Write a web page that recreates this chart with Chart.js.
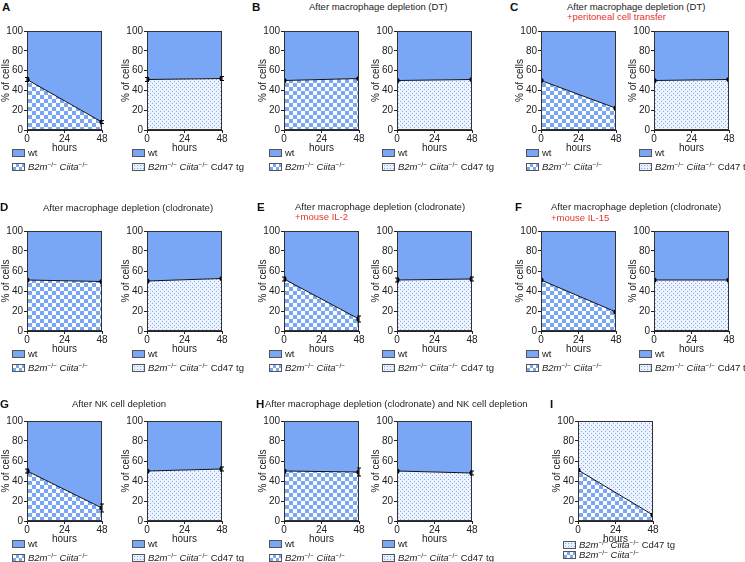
<!DOCTYPE html>
<html><head><meta charset="utf-8">
<script src="https://cdn.jsdelivr.net/npm/chart.js@4"></script>
<style>
body{margin:0;width:745px;height:562px;background:#fff;position:relative;overflow:hidden;font-family:"Liberation Sans",Arial,sans-serif;color:#222}
.t{position:absolute;font-size:9.5px;white-space:nowrap;line-height:10px}
.lt{position:absolute;font-size:11.5px;font-weight:bold;line-height:12px;color:#111}
.red{color:#e5342d}
.cw{position:absolute}
.lg{position:absolute;font-size:9.5px;white-space:nowrap;line-height:10px;height:10px;display:flex;align-items:center}
.sw{width:11px;height:6px;border:1px solid #555;margin-right:3px;flex:none}
.blue{background:#79a7f5}
.chk{background:repeating-conic-gradient(#79a7f5 0 25%,#fff 0 50%) 0 0/6px 6px}
.dot{background:#eaf1fe radial-gradient(#7aa8f5 0.8px,transparent 1px) 0 0/3px 3px}
sup{font-size:6.5px;vertical-align:0;position:relative;top:-3px}
</style></head>
<body>
<script>
// ---- data ----
const hours = [0, 48];
const hourTicks = [0, 24, 48];
const pctTicks = [0, 20, 40, 60, 80, 100];
const fullTop = [100, 100];
const A_ko = [51, 8],   A_koErr = [2, 1.5];
const A_tg = [51, 52],  A_tgErr = [2, 2];
const B_ko = [50, 52];
const B_tg = [50, 51];
const C_ko = [50, 22];
const C_tg = [50, 51];
const D_ko = [51, 49.5];
const D_tg = [50, 52.5];
const E_ko = [52, 12],  E_koErr = [2, 3];
const E_tg = [51, 52],  E_tgErr = [2, 2];
const F_ko = [51, 19];
const F_tg = [51, 51];
const G_ko = [50, 13],  G_koErr = [2, 4];
const G_tg = [50, 52],  G_tgErr = [0, 2];
const H_ko = [50, 49],  H_koErr = [0, 4];
const H_tg = [50, 48],  H_tgErr = [0, 2];
const I_ko = [51, 6];

const BLUE = '#79a7f5';
const INK = '#222';
const FONT = '"Liberation Sans", Arial, sans-serif';

function checker(){const c=document.createElement('canvas');c.width=c.height=8;const g=c.getContext('2d');g.fillStyle='#fff';g.fillRect(0,0,8,8);g.fillStyle=BLUE;g.fillRect(0,0,4,4);g.fillRect(4,4,4,4);return g.createPattern(c,'repeat');}
function dots(){const c=document.createElement('canvas');c.width=c.height=4;const g=c.getContext('2d');g.fillStyle='#edf3fe';g.fillRect(0,0,4,4);g.fillStyle='#86b0f6';g.fillRect(0,0,1,1);g.fillRect(2,2,1,1);return g.createPattern(c,'repeat');}

const frame = {id:'frame', afterDatasetsDraw(ch){const a=ch.chartArea,g=ch.ctx;g.save();g.strokeStyle='#333';g.lineWidth=1;g.strokeRect(Math.round(a.left)+0.5,Math.round(a.top)+0.5,Math.round(a.right-a.left)-1,Math.round(a.bottom-a.top)-1);g.restore();}};
const errBars = {id:'errBars', afterDatasetsDraw(ch){const e=ch.options.plugins.errBars.err;if(!e)return;const g=ch.ctx,d=ch.data.datasets[0].data,xs=ch.scales.x,ys=ch.scales.y;g.save();g.strokeStyle='#000';g.lineWidth=1;d.forEach((p,i)=>{if(!e[i])return;const x=xs.getPixelForValue(p.x),y1=ys.getPixelForValue(p.y-e[i]),y2=ys.getPixelForValue(p.y+e[i]);g.beginPath();g.moveTo(x,y1);g.lineTo(x,y2);g.moveTo(x-2,y1);g.lineTo(x+2,y1);g.moveTo(x-2,y2);g.lineTo(x+2,y2);g.stroke();});g.restore();}};

const PW = 75, YW = 27, PT = 8, PR = 8, XH = 24;
function mkChart(left, top, bottom, vals, err, lowFill, upFill){
  const h = bottom - top;
  const cw = document.createElement('div'); cw.className='cw';
  cw.style.left=(left-YW)+'px'; cw.style.top=(top-PT)+'px';
  const W = YW+PW+PR, H = PT+h+XH;
  cw.style.width=W+'px'; cw.style.height=H+'px';
  const cv=document.createElement('canvas'); cv.width=W; cv.height=H; cv.style.width=W+'px'; cv.style.height=H+'px';
  cw.appendChild(cv); document.body.appendChild(cw);
  const tickFont={family:FONT,size:10};
  new Chart(cv,{type:'line',
    data:{datasets:[
      {data:hours.map((x,i)=>({x,y:vals[i]})),fill:'origin',backgroundColor:lowFill,borderColor:'#111',borderWidth:1,pointRadius:2.6,pointBackgroundColor:'#000',pointBorderWidth:0,tension:0},
      {data:hours.map((x,i)=>({x,y:fullTop[i]})),fill:'-1',backgroundColor:upFill,borderWidth:0,pointRadius:0}
    ]},
    options:{animation:false,responsive:false,events:[],devicePixelRatio:1,
      layout:{padding:{top:PT,right:PR,left:0,bottom:0}},
      plugins:{legend:{display:false},tooltip:{enabled:false},errBars:{err}},
      scales:{
        x:{type:'linear',min:0,max:48,afterBuildTicks:s=>{s.ticks=hourTicks.map(v=>({value:v}));},
          grid:{display:true,drawOnChartArea:false,tickLength:3,color:INK},border:{color:INK},
          ticks:{font:tickFont,color:INK,padding:0,maxRotation:0,autoSkip:false},
          title:{display:true,text:'hours',font:tickFont,color:INK,padding:{top:-5,bottom:0}},
          afterFit:s=>{s.height=XH;}},
        y:{min:0,max:100,afterBuildTicks:s=>{s.ticks=pctTicks.map(v=>({value:v}));},
          grid:{display:true,drawOnChartArea:false,tickLength:3,color:INK},border:{color:INK},
          ticks:{font:tickFont,color:INK,padding:1,autoSkip:false},
          title:{display:true,text:'% of cells',font:{family:FONT,size:10},color:INK,padding:0},
          afterFit:s=>{s.width=YW;}}
      }},
    plugins:[frame,errBars]});
}
function addText(cls,x,y,html){const d=document.createElement('div');d.className=cls;d.style.left=x+'px';d.style.top=y+'px';d.innerHTML=html;document.body.appendChild(d);}
const KO='<i>B2m</i><sup>−/−</sup> <i>Ciita</i><sup>−/−</sup>';
const TG=KO+' Cd47 tg';
function legend(left,bottom,rows,o1,o2){
  const offs=[o1,o2];
  rows.forEach((r,i)=>addText('lg',left-15,bottom+offs[i]-5,'<span class="sw '+r[0]+'"></span><span>'+r[1]+'</span>'));
}

const chk = checker(), dt = dots();
const colL = [27,147,284,397,541,654];
const rowT = [31,231,421], rowB = [130,331,521];
const panels = [
  [A_ko,A_koErr,A_tg,A_tgErr],[B_ko,null,B_tg,null],[C_ko,null,C_tg,null],
  [D_ko,null,D_tg,null],[E_ko,E_koErr,E_tg,E_tgErr],[F_ko,null,F_tg,null],
  [G_ko,G_koErr,G_tg,G_tgErr],[H_ko,H_koErr,H_tg,H_tgErr]
];
panels.forEach((p,k)=>{
  const r=Math.floor(k/3), c=k%3;
  const l1=colL[c*2], l2=colL[c*2+1];
  mkChart(l1,rowT[r],rowB[r],p[0],p[1],chk,BLUE);
  mkChart(l2,rowT[r],rowB[r],p[2],p[3],dt,BLUE);
  legend(l1,rowB[r],[['blue','wt'],['chk',KO]],23,37);
  legend(l2,rowB[r],[['blue','wt'],['dot',TG]],23,37);
});
mkChart(578,421,521,I_ko,null,chk,dt);
legend(578,521,[['dot',TG],['chk',KO]],24,34);

// panel letters & titles
addText('lt',2,1,'A'); addText('lt',252,1,'B'); addText('lt',510,1,'C');
addText('lt',0,201,'D'); addText('lt',257,201,'E'); addText('lt',515,201,'F');
addText('lt',0,398,'G'); addText('lt',256,398,'H'); addText('lt',550,398,'I');
addText('t',309,2,'After macrophage depletion (DT)');
addText('t',567,2,'After macrophage depletion (DT)');
addText('t red',567,12,'+peritoneal cell transfer');
addText('t',43,203,'After macrophage depletion (clodronate)');
addText('t',295,202,'After macrophage depletion (clodronate)');
addText('t red',295,212,'+mouse IL-2');
addText('t',551,202,'After macrophage depletion (clodronate)');
addText('t red',551,213,'+mouse IL-15');
addText('t',72,399,'After NK cell depletion');
addText('t',265,399,'After macrophage depletion (clodronate) and NK cell depletion');
</script>
</body></html>
